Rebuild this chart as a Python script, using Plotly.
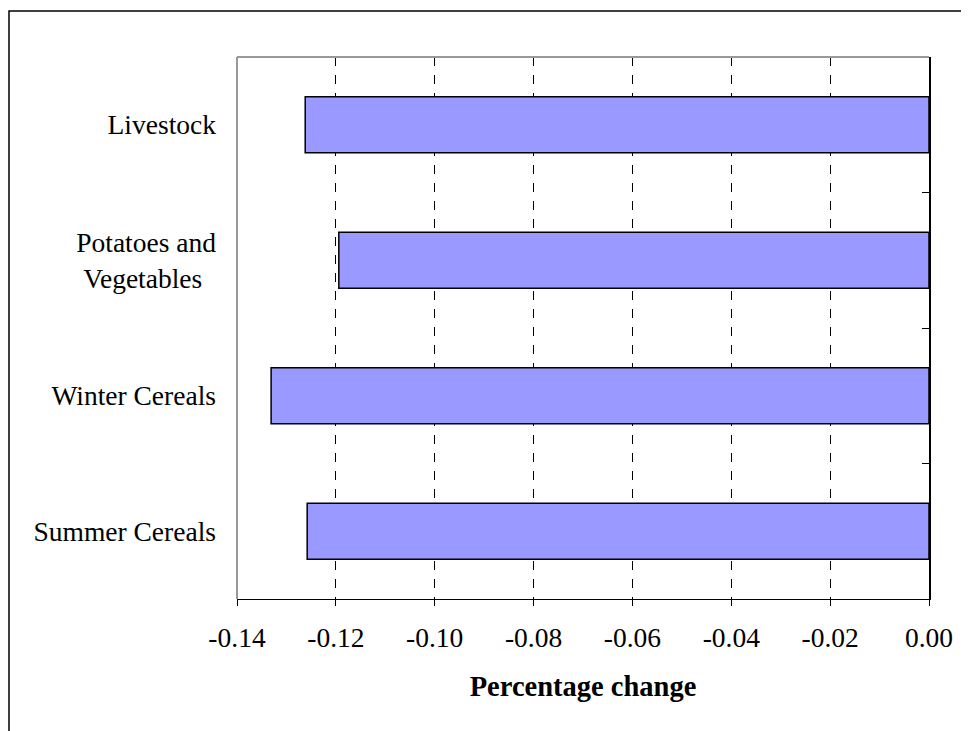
import plotly.graph_objects as go

# Data (bottom to top, as Plotly stacks categories upward)
categories = ["Summer Cereals", "Winter Cereals", "Potatoes and Vegetables", "Livestock"]
tick_labels = ["Summer Cereals", "Winter Cereals", "Potatoes and<br>Vegetables\u00a0\u00a0", "Livestock"]
values = [-0.1258, -0.1331, -0.1194, -0.1262]
x_ticks = [-0.14, -0.12, -0.10, -0.08, -0.06, -0.04, -0.02, 0.00]

# page has an 8px body margin, so the figure is sized to fit the window
W, H = 961, 723
L, R, T, B = 229, 40, 49, 132
pw, ph = W - L - R, H - T - B

FONT = "Liberation Serif"

fig = go.Figure()
fig.add_trace(go.Bar(
    y=categories, x=values, orientation="h",
    marker=dict(color="#9999FF", line=dict(color="black", width=1.5)),
    showlegend=False, hoverinfo="x+y",
))

fig.update_layout(
    width=W, height=H,
    margin=dict(l=L, r=R, t=T, b=B),
    paper_bgcolor="white", plot_bgcolor="white",
    bargap=0.585,
    font=dict(family=FONT, size=27.5, color="black"),
    xaxis=dict(
        range=[x_ticks[0], x_ticks[-1]],
        tickvals=x_ticks,
        ticktext=[f"{v:.2f}" for v in x_ticks],
        ticks="outside", ticklen=6, tickcolor="black", tickwidth=1,
        ticklabelstandoff=8,
        showline=True, linecolor="black", linewidth=1,
        showgrid=True, gridcolor="black", gridwidth=1, griddash="dash",
        zeroline=False,
        tickfont=dict(family=FONT, size=27.5),
        title=dict(text="<b>Percentage change</b>", font=dict(family=FONT, size=28.5), standoff=24),
        fixedrange=True,
    ),
    yaxis=dict(
        type="category",
        categoryorder="array", categoryarray=categories,
        tickvals=categories, ticktext=tick_labels,
        range=[-0.5, len(categories) - 0.5],
        showline=False, showgrid=False, zeroline=False,
        ticks="", ticklabelstandoff=20,
        tickfont=dict(family=FONT, size=27.5),
        fixedrange=True,
    ),
    yaxis2=dict(
        overlaying="y", side="right", anchor="x",
        range=[-0.5, len(categories) - 0.5],
        tickvals=[i + 0.5 for i in range(len(categories) - 1)] + [len(categories) - 0.5],
        showticklabels=False,
        ticks="inside", ticklen=7, tickcolor="black", tickwidth=1,
        showline=True, linecolor="black", linewidth=1.5,
        showgrid=False, zeroline=False,
        fixedrange=True,
    ),
)

# invisible anchor trace for the secondary category-boundary axis
fig.add_trace(go.Scatter(x=[None], y=[None], yaxis="y2", showlegend=False, hoverinfo="skip"))

# Plot-area border (grey top and left)
fig.add_shape(type="line", xref="paper", yref="paper", x0=0, x1=1, y0=1, y1=1,
              line=dict(color="#999999", width=2))
fig.add_shape(type="line", xref="paper", yref="paper", x0=0, x1=0, y0=0, y1=1,
              line=dict(color="#999999", width=2))

# Outer chart frame (page px 9,11 -> figure px 1,3)
fx0 = (1 - L) / pw
fy1 = (H - B - 3) / ph
fig.add_shape(type="rect", xref="paper", yref="paper",
              x0=fx0, x1=1.2, y0=-0.4, y1=fy1,
              line=dict(color="black", width=1.5), fillcolor="rgba(0,0,0,0)", layer="below")

fig.write_html("out.html")
